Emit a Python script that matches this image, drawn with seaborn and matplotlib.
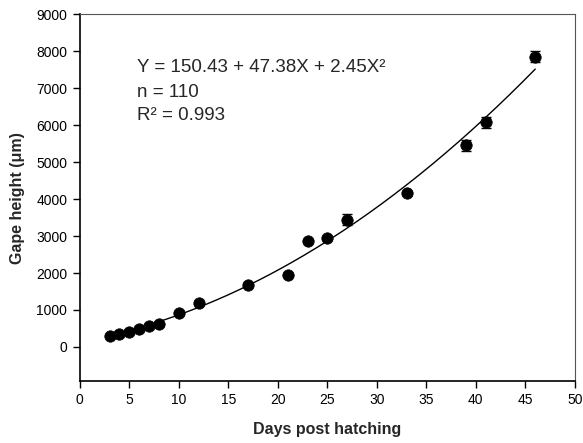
import numpy as np
import pandas as pd
import seaborn as sns
import matplotlib.pyplot as plt

# mean gape height per sampling day
days = [3, 4, 5, 6, 7, 8, 10, 12, 17, 21, 23, 25, 27, 33, 39, 41, 46]
gape = [300, 350, 410, 480, 580, 620, 910, 1190, 1680, 1940, 2870, 2950, 3440, 4170, 5455, 6080, 7850]
gape_se = [40, 40, 40, 40, 40, 40, 50, 60, 50, 50, 60, 50, 150, 60, 150, 150, 150]

# quadratic fit reported on the chart: Y = a + bX + cX^2
fit_coef = [150.43, 47.38, 2.45]

sns.set_style("ticks")
plt.rcParams['font.family'] = ['Liberation Sans', 'DejaVu Sans']

df = pd.DataFrame({'Day': days, 'Gape': gape, 'SE': gape_se})
fit_x = np.linspace(min(days), max(days), 200)
fit_df = pd.DataFrame({'Day': fit_x,
                       'Gape': fit_coef[0] + fit_coef[1] * fit_x + fit_coef[2] * fit_x ** 2})

fig = plt.figure(figsize=(5.83, 4.43), dpi=100)
ax = fig.add_axes([0.137, 0.140, 0.849, 0.828])

sns.lineplot(data=fit_df, x='Day', y='Gape', color='black', linewidth=1.0, ax=ax)
ax.errorbar(df['Day'], df['Gape'], yerr=df['SE'], fmt='none', ecolor='black',
            elinewidth=1.0, capsize=3.5, capthick=1.0, zorder=3)
sns.scatterplot(data=df, x='Day', y='Gape', color='black', s=68, edgecolor='black',
                linewidth=0.5, zorder=4, ax=ax)

ax.set_xlim(0, 50)
ax.set_ylim(-920, 9000)
ax.set_xticks(range(0, 51, 5))
ax.set_yticks(range(0, 9001, 1000))
ax.tick_params(direction='out', length=5, width=1, labelsize=10, colors='black')
ax.tick_params(axis='y', pad=4)

ax.set_xlabel('Days post hatching', fontsize=11.5, fontweight='bold', labelpad=11)
ax.set_ylabel('Gape height (μm)', fontsize=11.5, fontweight='bold', labelpad=8)

for side in ['left', 'bottom']:
    ax.spines[side].set_color('black')
    ax.spines[side].set_linewidth(1.2)
for side in ['top', 'right']:
    ax.spines[side].set_visible(True)
    ax.spines[side].set_color('#555555')
    ax.spines[side].set_linewidth(0.8)

ax.text(5.8, 7560, 'Y = 150.43 + 47.38X + 2.45X²', fontsize=13.5, va='center')
ax.text(5.8, 6880, 'n = 110', fontsize=13.5, va='center')
ax.text(5.8, 6260, 'R² = 0.993', fontsize=13.5, va='center')

fig.savefig('out.png', dpi=100)
